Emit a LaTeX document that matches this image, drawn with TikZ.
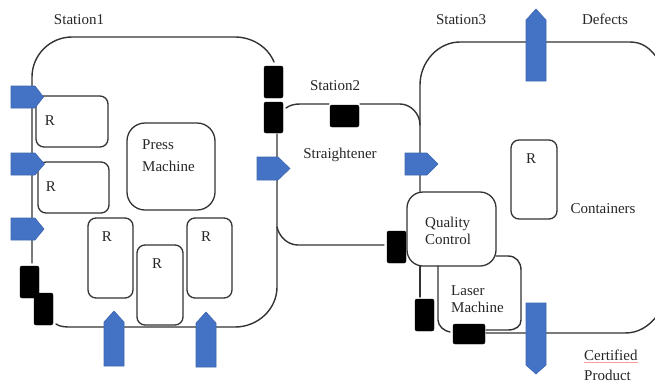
\documentclass[tikz,border=0pt]{standalone}
\usepackage{fontspec}
\setmainfont{Liberation Serif}
\tikzset{
  loopline/.style={draw=black!80,line width=1.4pt,line cap=round},
  rbox/.style={draw=black!80,line width=1.3pt,rounded corners=8pt,inner sep=0pt,fill=none},
  blackbox/.style={draw=black,fill=black,rounded corners=2pt,inner sep=0pt,line width=.4pt},
  blue/.style={fill=myblue,draw=myblueedge,line width=.6pt,line join=miter},
  lbl/.style={inner sep=0pt,text=black!85,font=\fontsize{15}{17}\selectfont},
}
\definecolor{myblue}{HTML}{4472C4}
\definecolor{myblueedge}{HTML}{3E67B1}
\newcommand{\boxat}[6]{\node[#1,minimum width=#4 pt,minimum height=#5 pt] (#2) at (#3) {#6};}
\begin{document}
\begin{tikzpicture}[x=1pt,y=-1pt]
\useasboundingbox (0,0) rectangle (655,383);
\begin{scope}
\clip (0,0) rectangle (655,383);
% black boxes
\boxat{blackbox}{ba}{273.5,82}{19}{32}{}
\boxat{blackbox}{bb}{273.5,117.5}{19}{31}{}
\boxat{blackbox}{bc}{29.5,282}{19}{32}{}
\boxat{blackbox}{bd}{43.5,309}{19}{32}{}
\boxat{blackbox}{be}{344.5,116}{29}{22}{}
\boxat{blackbox}{bf}{396.5,247}{19}{32}{}
\boxat{blackbox}{bg}{424.5,315}{19}{32}{}
\boxat{blackbox}{bh}{469,334}{32}{20}{}
% rounded boxes
\boxat{rbox}{r1}{72,121.5}{72}{51}{}
\boxat{rbox}{r2}{73.5,187.5}{71}{51}{}
\boxat{rbox}{r3}{110.5,258}{45}{80}{}
\boxat{rbox}{r4}{160,285}{46}{80}{}
\boxat{rbox}{r5}{209.5,258}{45}{80}{}
\boxat{rbox}{r6}{534,179.5}{46}{79}{}
\boxat{rbox,rounded corners=18pt}{press}{171,166.5}{88}{87}{}
\boxat{rbox,rounded corners=16pt}{qc}{451.5,229}{89}{74}{}
% station 1 loop
\coordinate (s1a) at (274,62);
\coordinate (s1b) at (32,263);
\coordinate (s1c) at (56,324);
\coordinate (s1d) at (277,134);
\draw[loopline] (s1a) .. controls (268,47) and (252,37) .. (235,37) -- (72,37)
  .. controls (50,37) and (32,55) .. (32,77) -- (s1b);
\draw[loopline] (s1c) .. controls (60,327) and (66,327) .. (72,327) -- (235,327)
  .. controls (258,327) and (277,309) .. (277,287) -- (s1d);
% station 2 loop
\draw[loopline] (286,108) .. controls (290,105) and (295,104) .. (300,104) -- (329,104);
\draw[loopline] (360,104) -- (400,104) .. controls (410,104) and (420,113) .. (420,125);
\draw[loopline] (277,227) .. controls (279,236) and (287,245) .. (298,245) -- (384,245);
% station 3 loop
\draw[loopline] (qc.north -| 420,192) -- (420,85) .. controls (420,62) and (438,42) .. (460,42)
  -- (630,42) .. controls (642,42) and (650,48) .. (657,58);
\draw[loopline] (420,266) -- (420,297);
\draw[loopline] (486,333) -- (625,333) .. controls (638,333) and (648,327) .. (657,316);
% laser machine
\draw[loopline] (496,256) -- (508,256) .. controls (516,256) and (521,262) .. (521,270)
  -- (521,320) .. controls (521,326) and (516,330) .. (508,330) -- (486,330);
\draw[loopline] (438,266) -- (438,320) .. controls (438,326) and (444,331) .. (450,332);
% blue arrows
\draw[blue] (11,86) -- (35,86) -- (43.5,97) -- (35,108) -- (11,108) -- cycle;
\draw[blue] (11,153) -- (35,153) -- (44.5,164) -- (35,175) -- (11,175) -- cycle;
\draw[blue] (11,218) -- (35,218) -- (44,229) -- (35,240) -- (11,240) -- cycle;
\draw[blue] (257,157) -- (278,157) -- (290,168.5) -- (278,180) -- (257,180) -- cycle;
\draw[blue] (405,153) -- (427,153) -- (438,164) -- (427,175) -- (405,175) -- cycle;
\draw[blue] (104,366) -- (104,322) -- (114,311) -- (124,322) -- (124,366) -- cycle;
\draw[blue] (196,367) -- (196,323) -- (206,312) -- (216,323) -- (216,367) -- cycle;
\draw[blue] (526,81) -- (526,20) -- (536,9) -- (546,20) -- (546,81) -- cycle;
\draw[blue] (526,303) -- (546,303) -- (546,365) -- (536,374) -- (526,365) -- cycle;
% labels
\node[lbl] (t1) at (79,20) {Station1};
\node[lbl] (t2) at (335,86) {Station2};
\node[lbl] (t3) at (461,20) {Station3};
\node[lbl] (t4) at (605,19) {Defects};
\node[lbl] (t5) at (340,155) {Straightener};
\node[lbl,anchor=west,align=left,font=\fontsize{15}{22}\selectfont] (t6) at (142,156) {Press\\Machine};
\node[lbl,anchor=west,align=left] (t7) at (425,230.5) {Quality\\Control};
\node[lbl,anchor=west,align=left] (t8) at (451,299) {Laser\\Machine};
\node[lbl] (t9) at (603,209) {Containers};
\node[lbl,anchor=west] (t10) at (584,355) {Certified};
\node[lbl,anchor=west] (t11) at (584,375.5) {Product};
\draw[red!40,line width=.7pt] (t10.west |- 0,362) -- (t10.east |- 0,362);
\node[lbl] (q1) at (50,121) {R};
\node[lbl] (q2) at (51,187) {R};
\node[lbl] (q3) at (107,237) {R};
\node[lbl] (q4) at (157,264) {R};
\node[lbl] (q5) at (206,237) {R};
\node[lbl] (q6) at (531,159) {R};
\end{scope}
\end{tikzpicture}
\end{document}
